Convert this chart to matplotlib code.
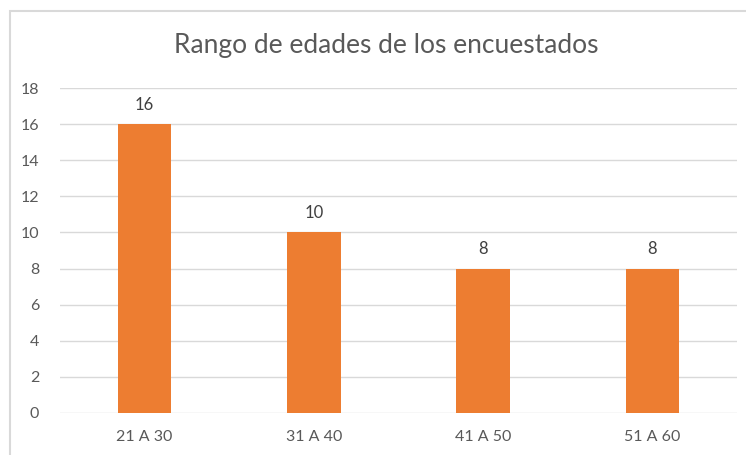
import matplotlib.pyplot as plt
from matplotlib.patches import Rectangle

categories = ["21 A 30", "31 A 40", "41 A 50", "51 A 60"]
values = [16, 10, 8, 8]
y_ticks = [0, 2, 4, 6, 8, 10, 12, 14, 16, 18]

plt.rcParams['font.family'] = ['Lato', 'DejaVu Sans']

W, H = 746, 455
fig = plt.figure(figsize=(W / 100, H / 100), dpi=100)
ax = fig.add_axes([60 / W, (H - 413) / H, 677 / W, (413 - 88) / H])

# chart border (only left and top visible in the crop)
fig.patches.append(Rectangle((10 / W, -0.1), 1.2, (H - 11) / H + 0.1,
                             transform=fig.transFigure, fill=False,
                             edgecolor="#d9d9d9", linewidth=1.5))

x = range(len(categories))
ax.bar(x, values, width=0.315, color="#ED7D31", zorder=3)
for i, v in zip(x, values):
    ax.annotate(str(v), (i, v), xytext=(0, 8), textcoords="offset points",
                ha="center", va="bottom", fontsize=12, color="#404040")

ax.set_xlim(-0.5, len(categories) - 0.5)
ax.set_ylim(0, 18)
ax.set_yticks(y_ticks)
ax.set_xticks(list(x))
ax.set_xticklabels(categories)
ax.tick_params(axis="both", length=0, labelsize=11.5, labelcolor="#595959")
ax.tick_params(axis="y", pad=15)
ax.tick_params(axis="x", pad=12)
ax.grid(axis="y", color="#d9d9d9", linewidth=1, zorder=0)
for s in ax.spines.values():
    s.set_visible(False)

fig.text(386 / W, 1 - 45 / H, "Rango de edades de los encuestados",
         ha="center", va="center", fontsize=19, color="#595959")

fig.savefig("out.png", dpi=100)
